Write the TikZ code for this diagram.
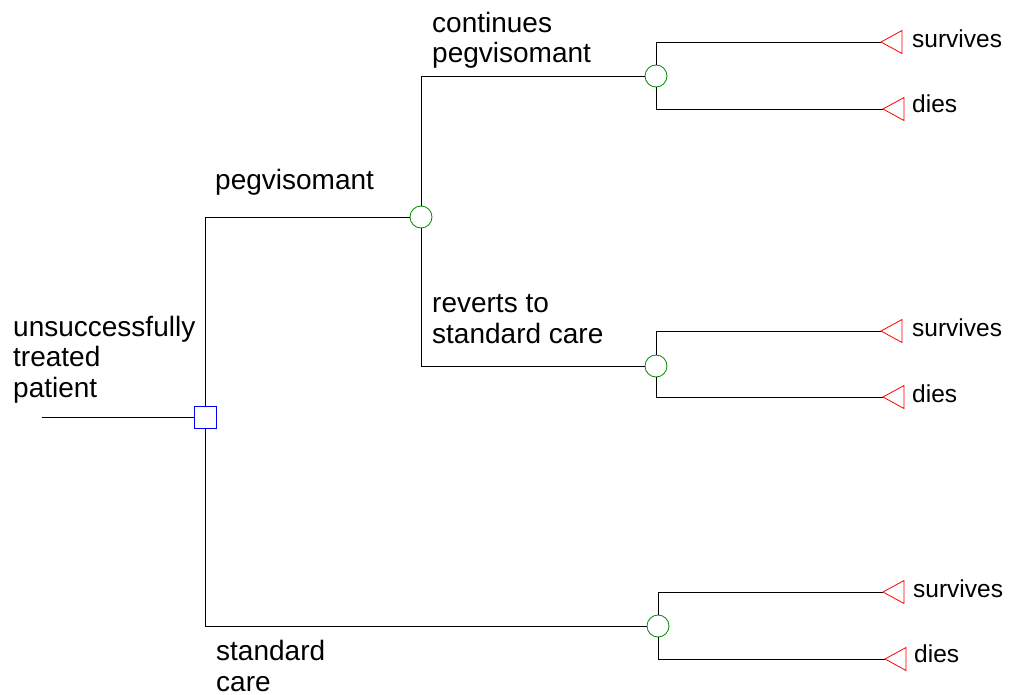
\documentclass[tikz,border=0pt]{standalone}
\usepackage{fontspec}
\setmainfont{Liberation Sans}
\begin{document}
\begin{tikzpicture}[x=1pt,y=-1pt,
  edge/.style={draw=black, line width=0.8pt},
  decision/.style={draw=blue, fill=white, rectangle, minimum size=22pt, inner sep=0pt, line width=0.8pt},
  chance/.style={draw=green!55!black, fill=white, circle, minimum size=22pt, inner sep=0pt, line width=0.8pt},
  terminal/.style={draw=red, line width=0.8pt, line join=miter},
  lbl/.style={font=\fontsize{28}{30.5}\selectfont, anchor=base west, align=left, inner sep=0pt},
  term/.style={font=\fontsize{24.5}{28}\selectfont, anchor=base west, inner sep=0pt}
]
\useasboundingbox (0,0) rectangle (1010,695);

% nodes
\coordinate (root) at (42,417);
\node[decision] (D0) at (205,417) {};
\node[chance] (C1) at (421,217) {};
\node[chance] (C2) at (656,76) {};
\node[chance] (C3) at (656,366) {};
\node[chance] (C4) at (658,626) {};

\coordinate (T1) at (881,42);
\coordinate (T2) at (883,109);
\coordinate (T3) at (881,331);
\coordinate (T4) at (883,397);
\coordinate (T5) at (883,592);
\coordinate (T6) at (885,659);

% connectors
\draw[edge] (root) -- (D0.west);
\draw[edge] (D0.north) |- (C1.west);
\draw[edge] (D0.south) |- (C4.west);
\draw[edge] (C1.north) |- (C2.west);
\draw[edge] (C1.south) |- (C3.west);
\draw[edge] (C2.north) |- (T1);
\draw[edge] (C2.south) |- (T2);
\draw[edge] (C3.north) |- (T3);
\draw[edge] (C3.south) |- (T4);
\draw[edge] (C4.north) |- (T5);
\draw[edge] (C4.south) |- (T6);

% terminal triangles
\foreach \t in {T1,T2,T3,T4,T5,T6}{
  \draw[terminal] (\t) -- ++(21,-11.5) -- ++(0,23) -- cycle;
}

% labels (anchor is the baseline of the last line)
\node[lbl] (L0) at (13,397) {unsuccessfully\\treated\\patient};
\node[lbl] (L1) at (215,190) {pegvisomant};
\node[lbl] (L2) at (216,691) {standard\\care};
\node[lbl] (L3) at (432,63) {continues\\pegvisomant};
\node[lbl] (L4) at (432,343) {reverts to\\standard care};

\node[term] (S1) at (912,48) {survives};
\node[term] (S2) at (912,113) {dies};
\node[term] (S3) at (912,337) {survives};
\node[term] (S4) at (912,402) {dies};
\node[term] (S5) at (913,597) {survives};
\node[term] (S6) at (914,662) {dies};
\end{tikzpicture}
\end{document}
